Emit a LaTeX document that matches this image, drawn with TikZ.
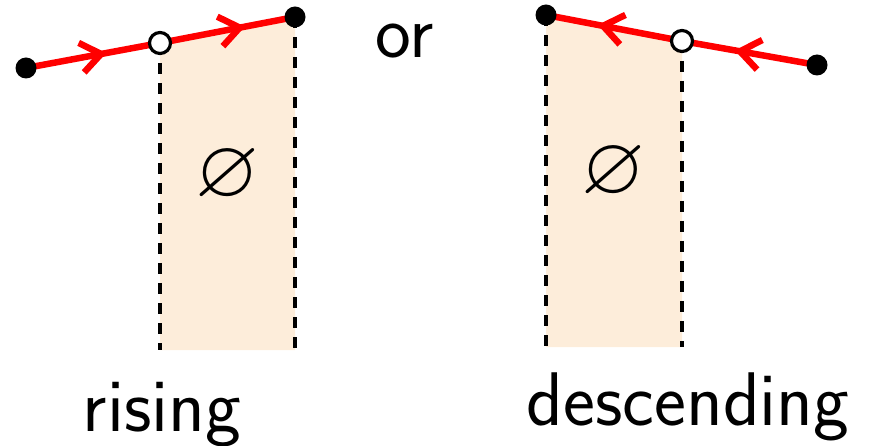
\documentclass[tikz,border=0pt]{standalone}
\usepackage{amssymb}
\usetikzlibrary{arrows.meta,decorations.markings}
\definecolor{fillorange}{RGB}{253,237,218}
\tikzset{
  fdot/.style={circle,fill=black,inner sep=0pt,minimum size=21pt},
  odot/.style={circle,draw=black,fill=white,line width=3.2pt,inner sep=0pt,minimum size=21pt},
  redline/.style={red,line width=6.5pt,postaction={decorate,decoration={markings,mark=at position #1 with {\arrow{Straight Barb[length=20pt,width=30pt]}}}}},
  dashline/.style={black,line width=3.5pt,dash pattern=on 11pt off 9pt},
  bigtext/.style={font=\sffamily\fontsize{76}{90}\selectfont,inner sep=0pt,anchor=base},
  nothing/.style={font=\fontsize{82}{90}\selectfont,inner sep=0pt}
}
\begin{document}
\begin{tikzpicture}[x=1pt,y=-1pt]
\useasboundingbox (0,0) rectangle (875,446);
% left
\coordinate (L1) at (26,68);
\coordinate (L2) at (160,43);
\coordinate (L3) at (295,17);
\coordinate (Lb2) at (160,350);
\coordinate (Lb3) at (295,350);
\fill[fillorange] (L2) -- (L3) -- (Lb3) -- (Lb2) -- cycle;
\draw[dashline] (L2) -- (Lb2);
\draw[dashline] (L3) -- (Lb3);
% right
\coordinate (R1) at (546,15);
\coordinate (R2) at (682,41);
\coordinate (R3) at (817,65);
\coordinate (Rb1) at (546,347);
\coordinate (Rb2) at (682,347);
\fill[fillorange] (R1) -- (R2) -- (Rb2) -- (Rb1) -- cycle;
\draw[dashline] (R1) -- (Rb1);
\draw[dashline] (R2) -- (Rb2);
% red lines
\draw[redline=0.6] (L1) -- (L2);
\draw[redline=0.63] (L2) -- (L3);
\draw[redline=0.61] (R3) -- (R2);
\draw[redline=0.62] (R2) -- (R1);
% dots
\node[fdot] (l1) at (L1) {};
\node[odot] (l2) at (L2) {};
\node[fdot] (l3) at (L3) {};
\node[fdot] (r1) at (R1) {};
\node[odot] (r2) at (R2) {};
\node[fdot] (r3) at (R3) {};
% empty sets
\node[nothing] (e1) at (227,176) {$\varnothing$};
\node[nothing] (e2) at (613,173) {$\varnothing$};
% texts
\node[bigtext] (or) at (405,58) {or};
\node[bigtext] (rising) at (162,431) {rising};
\node[bigtext] (desc) at (688,425) {descending};
\end{tikzpicture}
\end{document}
